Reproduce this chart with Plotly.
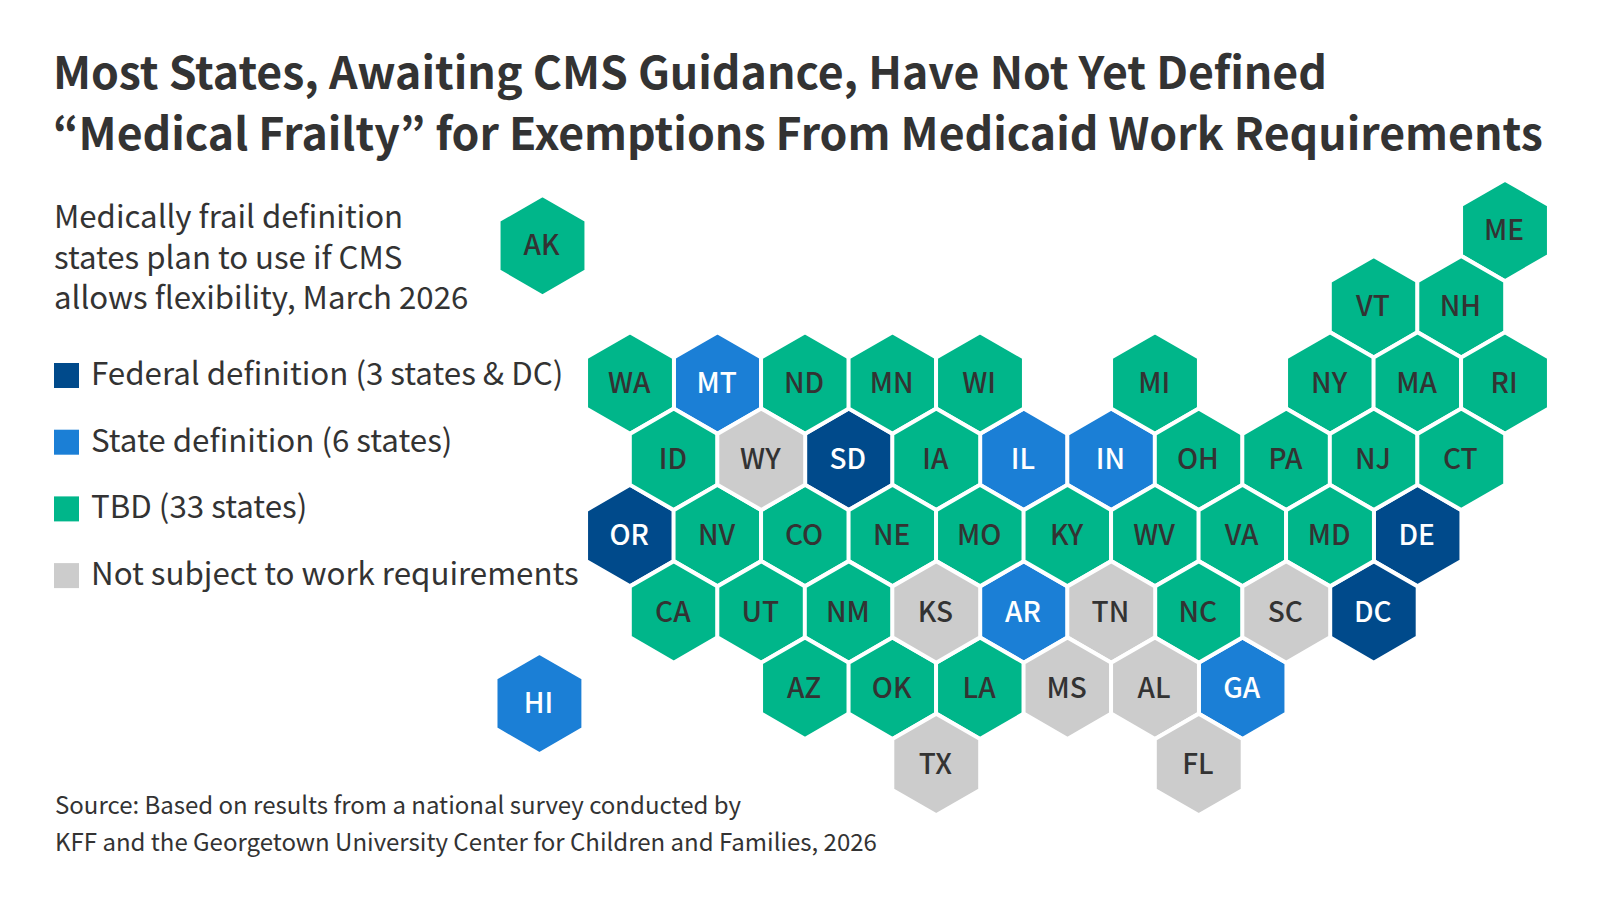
import plotly.graph_objects as go

FONT = "Noto Sans CJK KR"
DARK = "#333333"

# tile grid: col is in half tiles, row in whole rows, WA is col 0 / row 2
states = ["ME", "VT", "NH",
          "WA", "MT", "ND", "MN", "WI", "MI", "NY", "MA", "RI",
          "ID", "WY", "SD", "IA", "IL", "IN", "OH", "PA", "NJ", "CT",
          "OR", "NV", "CO", "NE", "MO", "KY", "WV", "VA", "MD", "DE",
          "CA", "UT", "NM", "KS", "AR", "TN", "NC", "SC", "DC",
          "AZ", "OK", "LA", "MS", "AL", "GA",
          "TX", "FL",
          "AK", "HI"]
cols = [20, 17, 19,
        0, 2, 4, 6, 8, 12, 16, 18, 20,
        1, 3, 5, 7, 9, 11, 13, 15, 17, 19,
        0, 2, 4, 6, 8, 10, 12, 14, 16, 18,
        1, 3, 5, 7, 9, 11, 13, 15, 17,
        4, 6, 8, 10, 12, 14,
        7, 13,
        -2, -2.07]
rows = [0, 1, 1,
        2, 2, 2, 2, 2, 2, 2, 2, 2,
        3, 3, 3, 3, 3, 3, 3, 3, 3, 3,
        4, 4, 4, 4, 4, 4, 4, 4, 4, 4,
        5, 5, 5, 5, 5, 5, 5, 5, 5,
        6, 6, 6, 6, 6, 6,
        7, 7,
        0.2, 6.2]

federal = ["OR", "SD", "DE", "DC"]
state_def = ["MT", "IL", "IN", "AR", "GA", "HI"]
not_subject = ["WY", "KS", "TN", "SC", "MS", "AL", "TX", "FL"]

labels = ["Federal definition (3 states & DC)", "State definition (6 states)",
          "TBD (33 states)", "Not subject to work requirements"]
colors = ["#004A8B", "#1B7FD6", "#00B68A", "#CCCCCC"]
text_colors = ["white", "white", DARK, DARK]


def categoria(st):
    if st in federal:
        return 0
    if st in state_def:
        return 1
    if st in not_subject:
        return 3
    return 2


fig = go.Figure()

for i in range(4):
    idx = [k for k, st in enumerate(states) if categoria(st) == i]
    fig.add_trace(go.Scatter(
        x=[cols[k] for k in idx],
        y=[rows[k] for k in idx],
        text=[states[k] for k in idx],
        name=labels[i],
        mode="markers",
        marker=dict(symbol="hexagon", size=101.5, color=colors[i],
                    line=dict(color="white", width=4)),
        hovertemplate="%{text}<extra>" + labels[i] + "</extra>",
    ))
    # text in its own trace, the labels sit a little under the tile centre
    fig.add_trace(go.Scatter(
        x=[cols[k] - 0.02 for k in idx],
        y=[rows[k] + 0.035 for k in idx],
        text=[states[k] for k in idx],
        mode="text",
        textposition="middle center",
        textfont=dict(family=FONT, size=28, color=text_colors[i], weight=500),
        hoverinfo="skip",
    ))

# legend is drawn by hand, plotly caps the symbol size and gap
for i in range(4):
    top = 363 + i * 66.7
    fig.add_shape(type="rect", xref="paper", yref="paper",
                  x0=54 / 1600, x1=79 / 1600,
                  y0=1 - top / 900, y1=1 - (top + 25) / 900,
                  fillcolor=colors[i], line_width=0)
    fig.add_annotation(text=labels[i], xref="paper", yref="paper",
                       x=89 / 1600, y=1 - (top + 8.5) / 900,
                       xanchor="left", yanchor="middle", showarrow=False,
                       font=dict(family=FONT, size=31.3, color=DARK))

textos = [
    ("Most States, Awaiting CMS Guidance, Have Not Yet Defined", 51, 69.5, 44.6, 700),
    ("“Medical Frailty” for Exemptions From Medicaid Work Requirements", 51, 130.5, 44.6, 700),
    ("Medically frail definition<br>states plan to use if CMS<br>allows flexibility, March 2026", 52, 255.5, 31.2, 400),
    ("Source: Based on results from a national survey conducted by", 53, 803, 24, 400),
    ("KFF and the Georgetown University Center for Children and Families, 2026", 53, 840, 24, 400),
]
for txt, x, y, size, peso in textos:
    fig.add_annotation(text=txt, xref="paper", yref="paper",
                       x=x / 1600, y=1 - y / 900,
                       xanchor="left", yanchor="middle", align="left", showarrow=False,
                       font=dict(family=FONT, size=size, color=DARK, weight=peso))

# one col is 43.75 px and one row 76.3 px, WA sits at 630,383
fig.update_xaxes(visible=False, range=[-630 / 43.75, 970 / 43.75])
fig.update_yaxes(visible=False, range=[2 + 517 / 76.3, 2 - 383 / 76.3])
fig.update_layout(width=1600, height=900, margin=dict(l=0, r=0, t=0, b=0),
                  showlegend=False, plot_bgcolor="white", paper_bgcolor="white")

fig.write_html("out.html", config={"displayModeBar": False},
               post_script="document.body.style.margin='0';")
